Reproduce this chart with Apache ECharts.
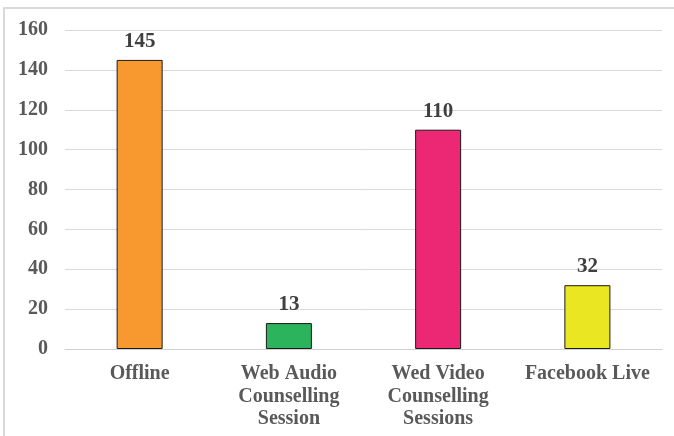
<!DOCTYPE html>
<html>
<head>
<meta charset="utf-8">
<script src="https://cdn.jsdelivr.net/npm/echarts@6/dist/echarts.min.js"></script>
<style>
html, body { margin: 0; padding: 0; background: #fff; }
#main { width: 674px; height: 436px; }
</style>
</head>
<body>
<div id="main"></div>
<script>
var categories = ['Offline', 'Web Audio\nCounselling\nSession', 'Wed Video\nCounselling\nSessions', 'Facebook Live'];
var values = [145, 13, 110, 32];
var barColors = ['#F7992E', '#2BB45C', '#EC2874', '#EAE622'];
var yTicks = { min: 0, max: 160, interval: 20 };

var font = '"Liberation Serif", "Times New Roman", serif';

var chart = echarts.init(document.getElementById('main'));

var option = {
	animation: false,
	backgroundColor: '#fff',
	graphic: [{
		type: 'rect',
		shape: { x: 4, y: 8, width: 720, height: 500 },
		style: { fill: 'none', stroke: '#d9d9d9', lineWidth: 2 },
		silent: true
	}],
	grid: {
		left: 65,
		right: 12,
		top: 30,
		bottom: 87
	},
	xAxis: {
		type: 'category',
		data: categories,
		axisTick: { show: false },
		axisLine: { lineStyle: { color: '#d0d0d0', width: 1 } },
		axisLabel: {
			interval: 0,
			margin: 14,
			color: '#595959',
			fontFamily: font,
			fontWeight: 'bold',
			fontSize: 20,
			lineHeight: 22.5
		}
	},
	yAxis: {
		type: 'value',
		min: yTicks.min,
		max: yTicks.max,
		interval: yTicks.interval,
		axisLine: { show: false },
		axisTick: { show: false },
		splitLine: { lineStyle: { color: '#d9d9d9', width: 1 } },
		axisLabel: {
			margin: 17,
			color: '#595959',
			fontFamily: font,
			fontWeight: 'bold',
			fontSize: 20
		}
	},
	series: [{
		type: 'bar',
		barWidth: 46,
		data: values.map(function (v, i) {
			return { value: v, itemStyle: { color: barColors[i] } };
		}),
		itemStyle: {
			borderColor: '#1a1a1a',
			borderWidth: 1
		},
		label: {
			show: true,
			position: 'top',
			distance: 8,
			color: '#404040',
			fontFamily: font,
			fontWeight: 'bold',
			fontSize: 21
		}
	}]
};

chart.setOption(option);
</script>
</body>
</html>
